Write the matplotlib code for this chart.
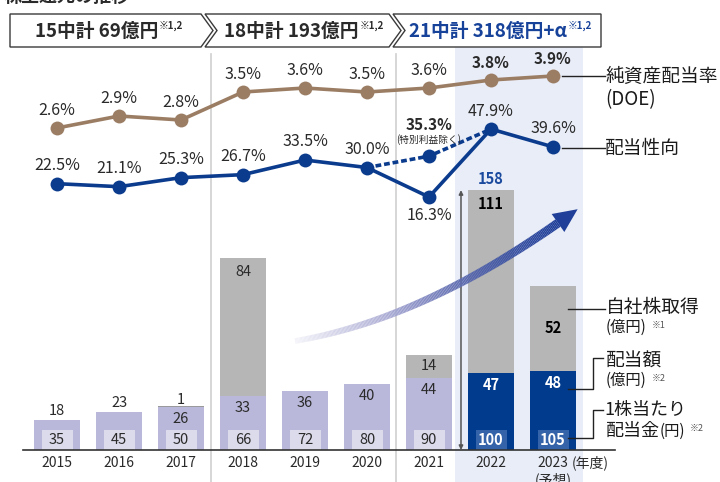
import numpy as np
import matplotlib
matplotlib.use("Agg")
import matplotlib.pyplot as plt
from matplotlib.collections import LineCollection
from matplotlib.patches import Polygon, Rectangle
from matplotlib.colors import LinearSegmentedColormap
import matplotlib.transforms as mtrans

plt.rcParams['font.family'] = ['Noto Sans CJK JP', 'DejaVu Sans']

# ---- data ----
years = ["2015", "2016", "2017", "2018", "2019", "2020", "2021", "2022", "2023"]
dividend_total = [18, 23, 26, 33, 36, 40, 44, 47, 48]          # 配当額 (億円)
buyback = [0, 0, 1, 84, 0, 0, 14, 111, 52]                     # 自社株取得 (億円)
dps = [35, 45, 50, 66, 72, 80, 90, 100, 105]                   # 1株当たり配当金 (円)
payout = [22.5, 21.1, 25.3, 26.7, 33.5, 30.0, 16.3, 47.9, 39.6]  # 配当性向 (%)
payout_adj_years = [5, 6, 7]
payout_adj = [30.0, 35.3, 47.9]                                # 特別利益除く
doe = [2.6, 2.9, 2.8, 3.5, 3.6, 3.5, 3.6, 3.8, 3.9]            # 純資産配当率 (%)
plans = ["15中計 69億円", "18中計 193億円", "21中計 318億円+α"]

# ---- colours ----
C_LAV = "#b9b8da"
C_LAV_IN = "#dcdbeb"
C_GRAY = "#b5b6b5"
C_BLUE = "#003b8e"
C_BLUE_IN = "#3563a9"
C_BROWN = "#9b7d64"
C_NAVY = "#0b3b8d"
C_PANEL = "#e9edf8"
C_TXT = "#2a2a2a"

W, H = 720, 482
fig = plt.figure(figsize=(W / 100, H / 100), dpi=100)

# pixel-space background layer
bg = fig.add_axes([0, 0, 1, 1], zorder=0)
bg.set_xlim(0, W); bg.set_ylim(H, 0); bg.axis("off")

# bars layer (values in 億円)
ax = fig.add_axes([0, 0, 1, 1], zorder=1)
ax.axis("off")
x0_px, step_px = 57, 62
ax.set_xlim(-x0_px / step_px, (W - x0_px) / step_px)
scale = 1.645
base_px = 32
ax.set_ylim(-base_px / scale, (H - base_px) / scale)

# line layers
axp = fig.add_axes([0, 0, 1, 1], zorder=2, sharex=ax)
axp.axis("off")
axp.set_ylim(16.3 - 285 / 2.15, 16.3 - 285 / 2.15 + H / 2.15)
axd = fig.add_axes([0, 0, 1, 1], zorder=2, sharex=ax)
axd.axis("off")
axd.set_ylim(2.6 - 354 / 40, 2.6 - 354 / 40 + H / 40)

# pixel-space overlay
ov = fig.add_axes([0, 0, 1, 1], zorder=3)
ov.set_xlim(0, W); ov.set_ylim(H, 0); ov.axis("off")

x = np.arange(len(years))

# ---- background: plan panel, separators, header ----
bg.add_patch(Rectangle((455, 47), 128, H - 47, color=C_PANEL, lw=0))
for sx in (211, 396):
    bg.plot([sx, sx], [54, H], color="#cfcfcf", lw=1.2)

hdr_top, hdr_bot, hdr_mid = 14, 47, 30.5
boxes = [
    [(10, hdr_top), (201, hdr_top), (213, hdr_mid), (201, hdr_bot), (10, hdr_bot)],
    [(205, hdr_top), (389, hdr_top), (401, hdr_mid), (389, hdr_bot), (205, hdr_bot), (217, hdr_mid)],
    [(393, hdr_top), (601, hdr_top), (601, hdr_bot), (393, hdr_bot), (405, hdr_mid)],
]
for pts in boxes:
    ov.add_patch(Polygon(pts, closed=True, fc="white", ec="#3a3a3a", lw=1.0))
txt_right = [158, 359, 567]
txt_col = [C_TXT, C_TXT, "#17429a"]
for label, xr, col in zip(plans, txt_right, txt_col):
    ov.text(xr, 31.5, label, ha="right", va="center", fontsize=13.5,
            fontweight="bold", color=col)
    ov.text(xr + 1, 26, "※1,2", ha="left", va="center", fontsize=7,
            fontweight="bold", color=col)

ov.text(4, 1.5, "株主還元の推移", ha="left", va="baseline", fontsize=13,
        fontweight="bold", color=C_TXT)

# ---- bars ----
bw = 0.73
inner_w = 0.5
inner_h = 20 / scale
for i in range(len(years)):
    main_col = C_BLUE if i >= 7 else C_LAV
    in_col = C_BLUE_IN if i >= 7 else C_LAV_IN
    d = dividend_total[i]
    b = buyback[i]
    ax.bar(x[i], d, width=bw, color=main_col, lw=0, zorder=2)
    if b:
        ax.bar(x[i], b, bottom=d, width=bw,
               color="#9a9a9a" if b < 5 else C_GRAY, lw=0, zorder=2)
    ax.add_patch(Rectangle((x[i] - inner_w / 2, 0), inner_w, inner_h,
                           color=in_col, lw=0, zorder=3))

    bold = i >= 7
    tcol = "white" if i >= 7 else C_TXT
    ax.text(x[i], inner_h / 2, str(dps[i]), ha="center", va="center",
            fontsize=10.5, color=tcol, fontweight="bold" if bold else "normal", zorder=4)
    if d >= 25:
        ax.text(x[i], d - 12 / scale, str(d), ha="center", va="center",
                fontsize=10.5, color=tcol, fontweight="bold" if bold else "normal", zorder=4)
    else:
        ax.text(x[i], d + 9 / scale, str(d), ha="center", va="center",
                fontsize=10.5, color=C_TXT, zorder=4)
    if b:
        top = d + b
        if b >= 60:
            by = top - 14 / scale
        elif b >= 10:
            by = d + b / 2
        else:
            by = top + 6 / scale
        ax.text(x[i], by, str(b), ha="center", va="center", fontsize=10.5,
                color="black" if bold else C_TXT,
                fontweight="bold" if bold else "normal", zorder=4)

# total return in the plan's first year
tot = dividend_total[7] + buyback[7]
ax.text(x[7], tot + 11 / scale, str(tot), ha="center", va="center",
        fontsize=10.5, fontweight="bold", color="#1a4a9e", zorder=4)
ax.annotate("", xy=(x[7] - 0.484, tot), xytext=(x[7] - 0.484, 0),
            arrowprops=dict(arrowstyle="<|-|>", color="#555555", lw=1.1,
                            mutation_scale=6, shrinkA=0, shrinkB=0), zorder=4)

# baseline
ax.plot([(23 - x0_px) / step_px, (615 - x0_px) / step_px], [0, 0],
        color="#333333", lw=1.2, zorder=5)

# year labels
ytr = mtrans.blended_transform_factory(ax.transData, ov.transData)
for i, yr in enumerate(years):
    ax.text(x[i], 463, yr, transform=ytr, ha="center", va="center",
            fontsize=10, color=C_TXT)
ax.text(x[8], 480, "(予想)", transform=ytr, ha="center", va="center",
        fontsize=10, color=C_TXT)
ov.text(572, 463, "(年度)", ha="left", va="center", fontsize=10, color=C_TXT)

# ---- rising arrow with gradient ----
P0, P1, P2 = np.array([295, 341]), np.array([420, 320]), np.array([558, 223])
t = np.linspace(0, 1, 200)
curve = ((1 - t)[:, None] ** 2) * P0 + (2 * (1 - t) * t)[:, None] * P1 + (t[:, None] ** 2) * P2
segs = np.stack([curve[:-1], curve[1:]], axis=1)
cmap = LinearSegmentedColormap.from_list("rise", ["#f4f4fa", "#b3b3d8", "#5a68ae", "#1f3f98"])
cols = cmap(np.linspace(0, 1, len(segs)))
widths = np.linspace(4, 6.5, len(segs))
ov.add_collection(LineCollection(segs, colors=cols, linewidths=widths,
                                 capstyle="butt", zorder=3))
d_end = (P2 - P1) / np.linalg.norm(P2 - P1)
nrm = np.array([-d_end[1], d_end[0]])
tip = P2 + d_end * 24
head = [tip, P2 + nrm * 11, P2 - nrm * 11]
ov.add_patch(Polygon(head, closed=True, fc="#1f3f98", ec="none", zorder=4))

# ---- payout ratio line ----
axp.plot(payout_adj_years, payout_adj, color=C_NAVY, lw=2.6,
         dashes=(1.6, 0.8), zorder=3)
axp.plot(x, payout, color=C_NAVY, lw=2.6, marker="o", markersize=10,
         markeredgewidth=0, zorder=4)
axp.plot([payout_adj_years[1]], [payout_adj[1]], color=C_NAVY, marker="o",
         markersize=10, markeredgewidth=0, zorder=4)
for i, v in enumerate(payout):
    off = -13 if i == 6 else 13
    axp.annotate(f"{v:.1f}%", (x[i], v), xytext=(0, off), textcoords="offset points",
                 ha="center", va="center", fontsize=11.5, color=C_TXT)
axp.annotate(f"{payout_adj[1]:.1f}%", (payout_adj_years[1], payout_adj[1]),
             xytext=(0, 22.5), textcoords="offset points", ha="center",
             va="center", fontsize=11, fontweight="bold", color=C_TXT)
axp.annotate("(特別利益除く)", (payout_adj_years[1], payout_adj[1]),
             xytext=(0, 12), textcoords="offset points", ha="center",
             va="center", fontsize=7, color=C_TXT)

# ---- DOE line ----
axd.plot(x, doe, color=C_BROWN, lw=2.6, marker="o", markersize=10,
         markeredgewidth=0, zorder=4)
for i, v in enumerate(doe):
    axd.annotate(f"{v:.1f}%", (x[i], v), xytext=(0, 12.5), textcoords="offset points",
                 ha="center", va="center", fontsize=11.5 if i < 7 else 11, color=C_TXT,
                 fontweight="bold" if i >= 7 else "normal")

# ---- legend labels on the right ----
lk = dict(color="#222222", lw=1.0)
ov.plot([562, 605], [76, 76], **lk)
ov.plot([562, 605], [148, 148], **lk)
ov.plot([568, 605], [309, 309], **lk)
ov.plot([568, 593, 593, 603], [389, 389, 358, 358], **lk)
ov.plot([568, 593, 593, 603], [438, 438, 410, 410], **lk)

big = dict(ha="left", va="center", fontsize=13.5, color="#1a1a1a")
sml = dict(ha="left", va="center", fontsize=11, color="#1a1a1a")
tiny = dict(ha="left", va="center", fontsize=6.5, color="#555555")
ov.text(605, 76, "純資産配当率", **big)
ov.text(605, 100, "(DOE)", **big)
ov.text(605, 148, "配当性向", **big)
ov.text(606, 308, "自社株取得", **big)
ov.text(606, 327, "(億円)", **sml)
ov.text(652, 325, "※1", **tiny)
ov.text(606, 361, "配当額", **big)
ov.text(606, 380, "(億円)", **sml)
ov.text(652, 378, "※2", **tiny)
ov.text(604, 410.5, "1株当たり", fontsize=13, ha="left", va="center", color="#1a1a1a")
ov.text(606, 430.5, "配当金", fontsize=13, ha="left", va="center", color="#1a1a1a")
ov.text(660, 431, "(円)", **sml)
ov.text(690, 428, "※2", **tiny)

fig.savefig("out.png", dpi=100)
